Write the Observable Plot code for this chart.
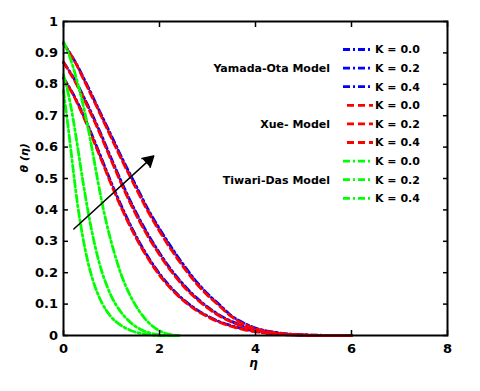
<!DOCTYPE html>
<html><head><meta charset="utf-8">
<script src="https://cdn.jsdelivr.net/npm/d3@7"></script>
<script src="https://cdn.jsdelivr.net/npm/@observablehq/plot@0.6"></script>
<style>
html,body{margin:0;padding:0;background:#fff;}
#wrap{position:relative;width:480px;height:391px;background:#fff;}
#wrap svg{position:absolute;left:0;top:0;}
</style></head><body><div id="wrap"></div>
<script>
// ---- data ----
const xTicks = [0, 2, 4, 6, 8];
const yTicks = [0, 0.1, 0.2, 0.3, 0.4, 0.5, 0.6, 0.7, 0.8, 0.9, 1];

const etaRB = [0, 0.25, 0.5, 0.75, 1.0, 1.25, 1.5, 1.75, 2.0, 2.25, 2.5, 2.75, 3.0, 3.25, 3.5, 3.75, 4.0, 4.5, 5.0, 5.5, 6.0];
const yamadaK00 = [0.82, 0.755, 0.672, 0.58, 0.485, 0.398, 0.32, 0.253, 0.197, 0.151, 0.114, 0.085, 0.062, 0.044, 0.031, 0.021, 0.013, 0.004, 0.001, 0, 0];
const yamadaK02 = [0.87, 0.81, 0.735, 0.652, 0.562, 0.475, 0.395, 0.325, 0.263, 0.208, 0.162, 0.123, 0.091, 0.065, 0.045, 0.03, 0.019, 0.006, 0.0015, 0, 0];
const yamadaK04 = [0.93, 0.87, 0.795, 0.715, 0.635, 0.555, 0.48, 0.405, 0.34, 0.28, 0.225, 0.175, 0.133, 0.098, 0.063, 0.04, 0.024, 0.008, 0.002, 0.0005, 0];
const xueK00 = [0.82, 0.752, 0.667, 0.574, 0.479, 0.392, 0.314, 0.248, 0.192, 0.147, 0.111, 0.082, 0.06, 0.042, 0.029, 0.019, 0.012, 0.0035, 0.001, 0, 0];
const xueK02 = [0.87, 0.806, 0.73, 0.646, 0.556, 0.468, 0.388, 0.318, 0.257, 0.203, 0.157, 0.119, 0.088, 0.062, 0.043, 0.028, 0.018, 0.005, 0.001, 0, 0];
const xueK04 = [0.93, 0.868, 0.79, 0.71, 0.628, 0.548, 0.472, 0.398, 0.332, 0.272, 0.218, 0.169, 0.128, 0.094, 0.06, 0.037, 0.022, 0.007, 0.002, 0, 0];

const etaG = [0, 0.1, 0.2, 0.3, 0.4, 0.5, 0.6, 0.7, 0.8, 0.9, 1.0, 1.2, 1.4, 1.6, 1.8, 2.0, 2.2, 2.4];
const tiwariK00 = [0.78, 0.66, 0.53, 0.41, 0.315, 0.24, 0.182, 0.138, 0.104, 0.078, 0.058, 0.032, 0.016, 0.007, 0.002, 0, 0, 0];
const tiwariK02 = [0.83, 0.77, 0.69, 0.595, 0.495, 0.405, 0.325, 0.258, 0.203, 0.16, 0.124, 0.074, 0.041, 0.02, 0.008, 0.002, 0, 0];
const tiwariK04 = [0.935, 0.9, 0.855, 0.8, 0.74, 0.67, 0.59, 0.505, 0.425, 0.355, 0.295, 0.195, 0.124, 0.073, 0.037, 0.015, 0.004, 0];

const arrowFrom = [0.215, 0.339];
const arrowTo = [1.88, 0.572];

const modelNames = ["Yamada-Ota Model", "Xue- Model", "Tiwari-Das Model"];
const kLabels = ["K = 0.0", "K = 0.2", "K = 0.4"];
const modelColors = ["#0000ff", "#ff0000", "#00ff00"];
const modelDash = ["7,3,2,3", "7,4", "7,3,2,3"];

// ---- build ----
const rows = (etas, th) => etas.map((e, i) => ({eta: e, theta: th[i]}));
const series = [
  [etaRB, [yamadaK00, yamadaK02, yamadaK04], 0],
  [etaRB, [xueK00, xueK02, xueK04], 1],
  [etaG, [tiwariK00, tiwariK02, tiwariK04], 2]
];
const lineMarks = [];
for (const [etas, curves, m] of series) {
  for (const c of curves) {
    lineMarks.push(Plot.line(rows(etas, c), {
      x: "eta", y: "theta", stroke: modelColors[m], strokeWidth: 2.8,
      strokeDasharray: modelDash[m], curve: "monotone-x"
    }));
  }
}

const font = "'DejaVu Sans', sans-serif";
const chart = Plot.plot({
  width: 480, height: 391,
  marginLeft: 63, marginRight: 33, marginTop: 21, marginBottom: 56,
  x: {domain: [0, 8]},
  y: {domain: [0, 1]},
  style: {fontFamily: font, fontWeight: "bold", fontSize: "13px", color: "black", background: "white", overflow: "visible"},
  marks: [
    ...lineMarks,
    Plot.arrow([{a: arrowFrom, b: arrowTo}], {
      x1: d => d.a[0], y1: d => d.a[1], x2: d => d.b[0], y2: d => d.b[1],
      stroke: "black", strokeWidth: 1.5, headLength: 12, fill: "black"
    }),
    Plot.frame({stroke: "black", strokeWidth: 2}),
    Plot.axisX({anchor: "bottom", ticks: xTicks, tickSize: -5, tickPadding: 13, tickFormat: d => String(d), label: null, strokeWidth: 1.5}),
    Plot.axisX({anchor: "top", ticks: xTicks, tickSize: -5, tickFormat: () => "", label: null, strokeWidth: 1.5}),
    Plot.axisY({anchor: "left", ticks: yTicks, tickSize: -5, tickPadding: 10.5, tickFormat: d => String(+d.toFixed(1)), label: null, strokeWidth: 1.5}),
    Plot.axisY({anchor: "right", ticks: yTicks, tickSize: -5, tickFormat: () => "", label: null, strokeWidth: 1.5}),
    Plot.text(["θ (η)"], {text: d => d, frameAnchor: "left", dx: -39, dy: -6, rotate: -90, fontSize: 11, fontStyle: "italic"}),
    Plot.text(["η"], {text: d => d, frameAnchor: "bottom", dx: -2, dy: 31, fontSize: 12, fontStyle: "italic"})
  ]
});
const wrap = document.getElementById("wrap");
wrap.appendChild(chart);

// ---- legend overlay ----
const leg = d3.select(wrap).append("svg").attr("width", 480).attr("height", 391)
  .style("font-family", font).style("font-weight", "bold");
const rowY0 = 49.5, rowStep = 18.6;
modelNames.forEach((name, m) => {
  kLabels.forEach((k, j) => {
    const y = rowY0 + (m * 3 + j) * rowStep;
    leg.append("line").attr("x1", 343).attr("x2", 373).attr("y1", y).attr("y2", y)
      .attr("stroke", modelColors[m]).attr("stroke-width", 2.8)
      .attr("stroke-dasharray", modelDash[m]).attr("stroke-dashoffset", m === 1 ? -4 : 0);
    leg.append("text").attr("x", 375).attr("y", y).attr("dy", "0.36em")
      .attr("font-size", 11).text(k);
  });
  leg.append("text").attr("x", 330).attr("y", rowY0 + (m * 3 + 1) * rowStep).attr("dy", "0.36em")
    .attr("text-anchor", "end").attr("font-size", 11).text(name);
});
</script></body></html>
